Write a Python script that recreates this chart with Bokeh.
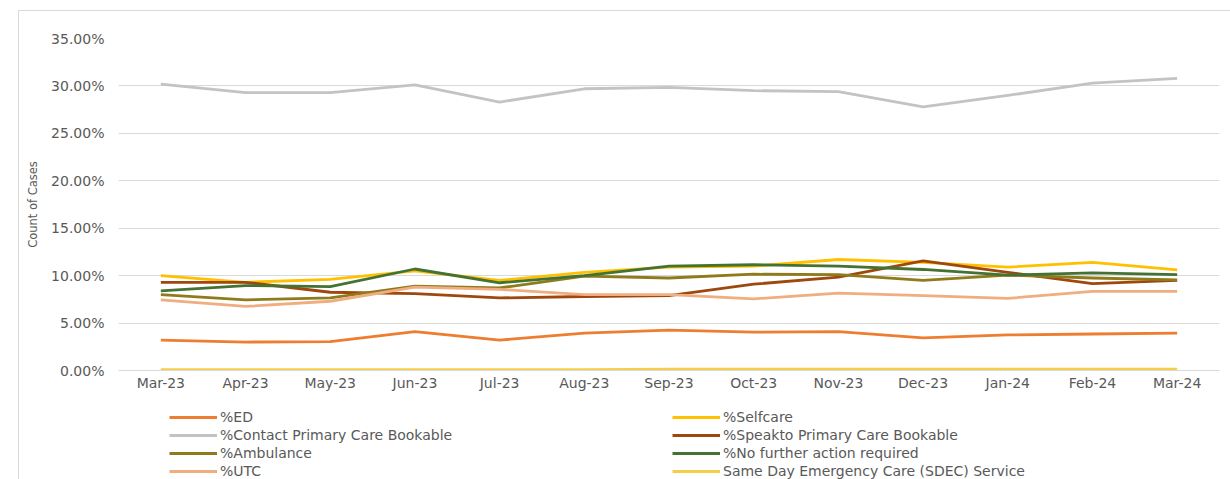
from bokeh.plotting import figure
from bokeh.layouts import column
from bokeh.models import (ColumnDataSource, NumeralTickFormatter,
                          FixedTicker, Legend, LegendItem)
from bokeh.embed import file_html
from bokeh.resources import INLINE

months = ["Mar-23", "Apr-23", "May-23", "Jun-23", "Jul-23", "Aug-23", "Sep-23",
          "Oct-23", "Nov-23", "Dec-23", "Jan-24", "Feb-24", "Mar-24"]

ed = [0.032, 0.030, 0.0305, 0.041, 0.032, 0.0395, 0.0425, 0.0405, 0.041, 0.0345, 0.0375, 0.0385, 0.0395]
selfcare = [0.100, 0.093, 0.096, 0.105, 0.095, 0.1035, 0.109, 0.110, 0.117, 0.114, 0.109, 0.114, 0.106]
contact = [0.302, 0.293, 0.293, 0.301, 0.283, 0.297, 0.2985, 0.295, 0.294, 0.278, 0.290, 0.303, 0.308]
speakto = [0.093, 0.093, 0.0825, 0.081, 0.0765, 0.078, 0.079, 0.091, 0.0985, 0.1155, 0.1035, 0.0915, 0.095]
ambulance = [0.080, 0.0745, 0.0765, 0.089, 0.087, 0.0995, 0.0975, 0.1015, 0.101, 0.095, 0.1005, 0.0975, 0.0955]
no_further = [0.084, 0.0895, 0.0885, 0.107, 0.0925, 0.100, 0.110, 0.1115, 0.110, 0.1065, 0.1005, 0.103, 0.101]
utc = [0.0745, 0.0675, 0.073, 0.088, 0.0855, 0.080, 0.080, 0.0755, 0.0815, 0.079, 0.076, 0.0835, 0.0835]
sdec = [0.001, 0.001, 0.001, 0.001, 0.001, 0.001, 0.0015, 0.0015, 0.0015, 0.0015, 0.0015, 0.0015, 0.0015]

y_ticks = [0.0, 0.05, 0.10, 0.15, 0.20, 0.25, 0.30, 0.35]

series = [
    ("%ED", ed, "#ED7D31"),
    ("%Selfcare", selfcare, "#FFC000"),
    ("%Contact Primary Care Bookable", contact, "#C3C3C3"),
    ("%Speakto Primary Care Bookable", speakto, "#9E480E"),
    ("%Ambulance", ambulance, "#8F7B1C"),
    ("%No further action required", no_further, "#437233"),
    ("%UTC", utc, "#F0AD80"),
    ("Same Day Emergency Care (SDEC) Service", sdec, "#F6CF4A"),
]

FONT = "DejaVu Sans"
GREY_TXT = "#595959"

# ---------------- main chart ----------------
p = figure(width=1211, height=387, output_backend="svg", toolbar_location=None,
           x_range=(-0.5, len(months) - 0.5), y_range=(0, 0.35),
           min_border_left=99, min_border_right=11, min_border_top=27, min_border_bottom=28)
p.outline_line_color = None
p.background_fill_color = "white"
p.border_fill_color = "white"

x_idx = list(range(len(months)))
for name, vals, color in series:
    src = ColumnDataSource(dict(x=x_idx, y=vals))
    p.line("x", "y", source=src, line_color=color, line_width=2.8, line_join="round")

p.xaxis.ticker = FixedTicker(ticks=x_idx)
p.xaxis.major_label_overrides = {i: m for i, m in enumerate(months)}
p.xaxis.axis_line_color = "#D9D9D9"
p.xaxis.major_tick_line_color = None
p.xaxis.minor_tick_line_color = None
p.xaxis.major_tick_out = 0
p.xaxis.major_tick_in = 0
p.xaxis.major_label_text_font = FONT
p.xaxis.major_label_text_font_size = "14px"
p.xaxis.major_label_text_color = GREY_TXT
p.xaxis.major_label_standoff = 4

p.yaxis.ticker = FixedTicker(ticks=y_ticks)
p.yaxis.formatter = NumeralTickFormatter(format="0.00%")
p.yaxis.axis_line_color = None
p.yaxis.major_tick_line_color = None
p.yaxis.minor_tick_line_color = None
p.yaxis.major_tick_out = 0
p.yaxis.major_tick_in = 0
p.yaxis.major_label_text_font = FONT
p.yaxis.major_label_text_font_size = "14px"
p.yaxis.major_label_text_color = GREY_TXT
p.yaxis.major_label_standoff = 14
p.yaxis.axis_label = "Count of Cases"
p.yaxis.axis_label_text_font = FONT
p.yaxis.axis_label_text_font_size = "11.5px"
p.yaxis.axis_label_text_font_style = "normal"
p.yaxis.axis_label_text_color = GREY_TXT
p.yaxis.axis_label_standoff = 8

p.xgrid.grid_line_color = None
p.ygrid.grid_line_color = "#D9D9D9"
p.ygrid.grid_line_width = 1

# ---------------- legend strip ----------------
lg = figure(width=1211, height=81, output_backend="svg", toolbar_location=None,
            x_range=(100, 101), y_range=(100, 101),
            x_axis_location=None, y_axis_location=None,
            min_border_left=0, min_border_right=0, min_border_top=0, min_border_bottom=0)
lg.outline_line_color = None
lg.xgrid.grid_line_color = None
lg.ygrid.grid_line_color = None
lg.background_fill_color = "white"
lg.border_fill_color = "white"

legend_renderers = {}
for name, vals, color in series:
    src = ColumnDataSource(dict(x=x_idx, y=vals))
    legend_renderers[name] = lg.line("x", "y", source=src, line_color=color, line_width=3.2)

order = ["%ED", "%Contact Primary Care Bookable", "%Ambulance", "%UTC",
         "%Selfcare", "%Speakto Primary Care Bookable", "%No further action required",
         "Same Day Emergency Care (SDEC) Service"]
items = [LegendItem(label=n, renderers=[legend_renderers[n]]) for n in order]
legend = Legend(items=items, orientation="vertical", ncols=2,
                location=(51, 0), padding=0, margin=0, spacing=2,
                glyph_width=48, glyph_height=14, label_height=14, label_width=450,
                label_standoff=3, border_line_color=None, background_fill_alpha=0,
                label_text_font=FONT, label_text_font_size="14px",
                label_text_color=GREY_TXT)
lg.add_layout(legend, "center")

layout = column(p, lg, spacing=0)
layout.margin = (10, 0, 0, 18)
layout.styles = {"border-top": "1px solid #d9d9d9", "border-left": "1px solid #d9d9d9"}

open("out.html", "w").write(file_html(layout, INLINE))
